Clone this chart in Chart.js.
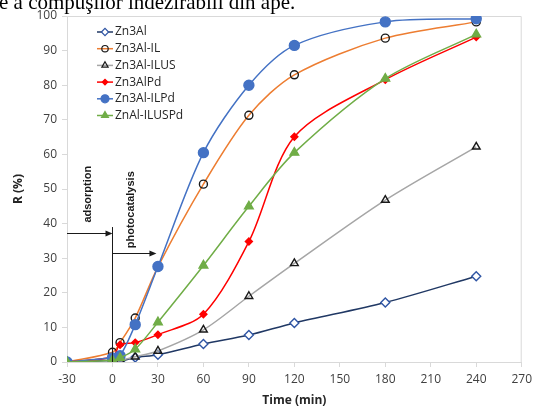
<!DOCTYPE html>
<html>
<head>
<meta charset="utf-8">
<title>R (%) vs time</title>
<script src="https://cdn.jsdelivr.net/npm/chart.js@4.4.1/dist/chart.umd.min.js"></script>
<style>
  html, body { margin: 0; padding: 0; background: #fff; }
  #wrap { position: relative; width: 537px; height: 412px; overflow: hidden; }
  #caption {
    position: absolute; left: -1px; top: -8px; white-space: nowrap;
    font-family: "Liberation Serif", "Times New Roman", serif;
    font-size: 21px; line-height: 21px; color: #000;
  }
  canvas { position: absolute; left: 0; top: 0; }
</style>
</head>
<body>
<div id="wrap">
  <canvas id="chart" width="537" height="412"></canvas>
  <div id="caption">e a compuşilor indezirabili din ape.</div>
</div>
<script>
// sampling times (min); -30..0 is the dark adsorption step
const times = [-30, 0, 5, 15, 30, 60, 90, 120, 180, 240];

const zn3Al      = [0, 0.4, 0.3, 1.3, 2.1, 5.2, 7.8, 11.3, 17.2, 24.8];
const zn3AlIL    = [0, 2.8, 5.6, 12.7, 27.5, 51.4, 71.3, 83.0, 93.6, 98.3];
const zn3AlILUS  = [0, 1.0, 0.6, 1.5, 3.2, 9.3, 19.0, 28.5, 46.8, 62.2];
const zn3AlPd    = [0, 1.5, 5.0, 5.6, 7.9, 13.8, 34.8, 65.1, 81.6, 93.9];
const zn3AlILPd  = [0, 1.2, 1.8, 10.8, 27.6, 60.5, 80.0, 91.5, 98.3, 99.2];
const znAlILUSPd = [0, 0.5, 1.2, 3.7, 11.5, 27.9, 45.0, 60.5, 81.9, 94.7];

const seriesNames = ['Zn3Al', 'Zn3Al-IL', 'Zn3Al-ILUS', 'Zn3AlPd', 'Zn3Al-ILPd', 'ZnAl-ILUSPd'];
const seriesValues = [zn3Al, zn3AlIL, zn3AlILUS, zn3AlPd, zn3AlILPd, znAlILUSPd];

const xTicks = [-30, 0, 30, 60, 90, 120, 150, 180, 210, 240, 270];
const yTicks = [0, 10, 20, 30, 40, 50, 60, 70, 80, 90, 100];

// look of each series: line colour, marker shape, marker stroke/fill
const looks = [
  { line: '#203864', style: 'rectRot',  radius: 4.5, stroke: '#2f55a4', fill: '#ffffff' },
  { line: '#ed7d31', style: 'circle',   radius: 4,   stroke: '#1a1a1a', fill: 'rgba(255,255,255,0)' },
  { line: '#a6a6a6', style: 'triangle', radius: 4.5, stroke: '#1a1a1a', fill: 'rgba(255,255,255,0)' },
  { line: '#ff0000', style: 'rectRot',  radius: 3.5, stroke: '#ff0000', fill: '#ff0000' },
  { line: '#4472c4', style: 'circle',   radius: 5,   stroke: '#4472c4', fill: '#4472c4' },
  { line: '#70ad47', style: 'triangle', radius: 5,   stroke: '#70ad47', fill: '#70ad47' }
];

const datasets = seriesNames.map((name, i) => ({
  label: name,
  data: times.map((t, k) => ({ x: t, y: seriesValues[i][k] })),
  borderColor: looks[i].line,
  borderWidth: 1.5,
  tension: 0.3,
  pointStyle: looks[i].style,
  pointRadius: looks[i].radius,
  pointBorderColor: looks[i].stroke,
  pointBackgroundColor: looks[i].fill,
  pointBorderWidth: 1.4,
  fill: false,
  order: seriesNames.length - i
}));

// adsorption / photocatalysis markers, in data units
const stepTime = 0;
const stepTop = 39;
const adsorptionArrowY = 37.3;
const photoArrowY = 31.5;
const photoArrowEnd = 29;

const plotFrame = {
  id: 'plotFrame',
  beforeDatasetsDraw(chart) {
    const { ctx, chartArea: a } = chart;
    ctx.save();
    ctx.strokeStyle = '#d9d9d9';
    ctx.lineWidth = 1;
    ctx.beginPath();
    ctx.moveTo(a.left, a.top + 0.5);
    ctx.lineTo(a.right - 0.5, a.top + 0.5);
    ctx.lineTo(a.right - 0.5, a.bottom);
    ctx.stroke();
    ctx.restore();
  }
};

function arrow(ctx, x1, x2, y) {
  ctx.beginPath();
  ctx.moveTo(x1, y);
  ctx.lineTo(x2 - 6, y);
  ctx.stroke();
  ctx.beginPath();
  ctx.moveTo(x2, y);
  ctx.lineTo(x2 - 7, y - 3);
  ctx.lineTo(x2 - 7, y + 3);
  ctx.closePath();
  ctx.fill();
}

const stepMarks = {
  id: 'stepMarks',
  afterDatasetsDraw(chart) {
    const { ctx, scales: { x, y } } = chart;
    const x0 = Math.round(x.getPixelForValue(stepTime)) + 0.5;
    ctx.save();
    ctx.strokeStyle = '#1a1a1a';
    ctx.fillStyle = '#1a1a1a';
    ctx.lineWidth = 1;
    ctx.beginPath();
    ctx.moveTo(x0, y.getPixelForValue(stepTop));
    ctx.lineTo(x0, y.getPixelForValue(0));
    ctx.stroke();
    arrow(ctx, x.getPixelForValue(-30), x0, Math.round(y.getPixelForValue(adsorptionArrowY)) + 0.5);
    arrow(ctx, x0, x.getPixelForValue(photoArrowEnd), Math.round(y.getPixelForValue(photoArrowY)) + 0.5);

    ctx.font = 'bold 11px "Liberation Sans", Arial, sans-serif';
    ctx.textAlign = 'center';
    ctx.textBaseline = 'middle';
    ctx.fillStyle = '#1a1a1a';
    const labels = [['adsorption', -16, 48.5], ['photocatalysis', 12.5, 44]];
    labels.forEach(([txt, t, v]) => {
      ctx.save();
      ctx.translate(x.getPixelForValue(t), y.getPixelForValue(v));
      ctx.rotate(-Math.PI / 2);
      ctx.fillText(txt, 0, 0);
      ctx.restore();
    });
    ctx.restore();
  }
};

const sideLegend = {
  id: 'sideLegend',
  afterDraw(chart) {
    const { ctx } = chart;
    const lx = 97, top = 32, gap = 16.7;
    ctx.save();
    ctx.font = '12px "Open Sans", Arial, sans-serif';
    ctx.textBaseline = 'middle';
    ctx.textAlign = 'left';
    datasets.forEach((ds, i) => {
      const yy = top + i * gap;
      ctx.strokeStyle = ds.borderColor;
      ctx.lineWidth = 1.5;
      ctx.beginPath();
      ctx.moveTo(lx, yy);
      ctx.lineTo(lx + 16, yy);
      ctx.stroke();
      ctx.strokeStyle = ds.pointBorderColor;
      ctx.fillStyle = ds.pointBackgroundColor;
      ctx.lineWidth = 1.2;
      Chart.helpers.drawPoint(ctx, {
        pointStyle: ds.pointStyle,
        radius: ds.pointRadius * 0.8,
        rotation: 0,
        borderWidth: 1.2
      }, lx + 8, yy);
      ctx.fillStyle = '#262626';
      ctx.fillText(ds.label, lx + 18, yy);
    });
    ctx.restore();
  }
};

new Chart(document.getElementById('chart').getContext('2d'), {
  type: 'line',
  data: { datasets: datasets },
  options: {
    responsive: false,
    animation: false,
    layout: { padding: { left: 0, top: 16, right: 10, bottom: 0 } },
    plugins: {
      legend: { display: false },
      tooltip: { enabled: false }
    },
    scales: {
      x: {
        type: 'linear',
        min: xTicks[0],
        max: xTicks[xTicks.length - 1],
        afterBuildTicks: (s) => { s.ticks = xTicks.map(v => ({ value: v })); },
        afterFit: (s) => { s.height = 50; },
        grid: { drawOnChartArea: false, tickLength: 5, color: '#d9d9d9' },
        border: { color: '#d9d9d9' },
        ticks: {
          padding: 5,
          color: '#404040',
          font: { family: '"Open Sans", Arial, sans-serif', size: 12 }
        },
        title: {
          display: true,
          text: 'Time (min)',
          color: '#262626',
          padding: { top: 0, bottom: 4 },
          font: { family: '"Open Sans", Arial, sans-serif', size: 12, weight: 'bold' }
        }
      },
      y: {
        min: yTicks[0],
        max: yTicks[yTicks.length - 1],
        afterBuildTicks: (s) => { s.ticks = yTicks.map(v => ({ value: v })); },
        afterFit: (s) => { s.width = 67; },
        grid: { drawOnChartArea: false, tickLength: 5, color: '#d9d9d9' },
        border: { color: '#d9d9d9' },
        ticks: {
          padding: 5,
          color: '#404040',
          font: { family: '"Open Sans", Arial, sans-serif', size: 12 }
        },
        title: {
          display: true,
          text: 'R (%)',
          color: '#262626',
          padding: { top: 11, bottom: 0 },
          font: { family: '"Open Sans", Arial, sans-serif', size: 12, weight: 'bold' }
        }
      }
    }
  },
  plugins: [plotFrame, stepMarks, sideLegend]
});
</script>
</body>
</html>
